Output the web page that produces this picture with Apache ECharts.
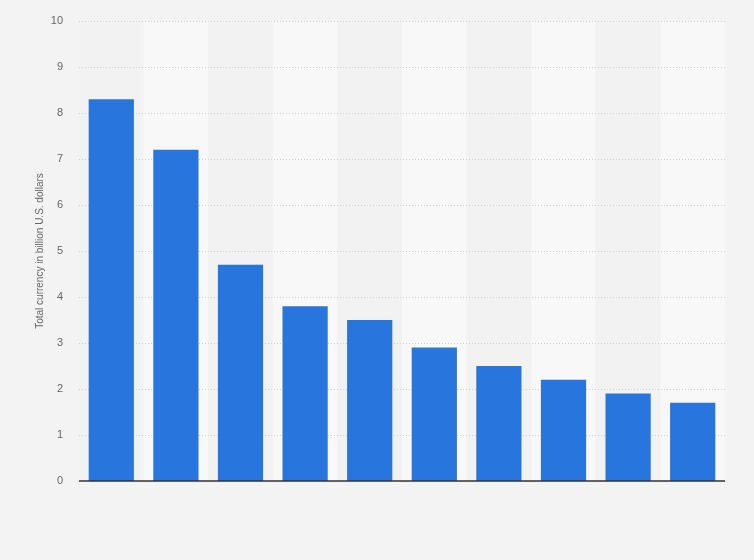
<!DOCTYPE html>
<html>
<head>
<meta charset="utf-8">
<script src="https://cdn.jsdelivr.net/npm/echarts@6/dist/echarts.min.js"></script>
<style>
  html, body { margin: 0; padding: 0; background: #f3f3f3; }
  #app { width: 754px; height: 560px; }
</style>
</head>
<body>
<div id="app"></div>
<script>
// no category labels are shown in the picture
const categories = ["1", "2", "3", "4", "5", "6", "7", "8", "9", "10"];
const values = [8.3, 7.2, 4.7, 3.8, 3.5, 2.9, 2.5, 2.2, 1.9, 1.7];
const yTicks = { min: 0, max: 10, interval: 1 };

const dom = document.getElementById("app");
const myChart = echarts.init(dom);

myChart.setOption({
  backgroundColor: "#f3f3f3",
  animation: false,
  grid: {
    left: 79,
    right: 29,
    top: 21,
    bottom: 79
  },
  xAxis: {
    type: "category",
    data: categories,
    z: 0,
    axisTick: { show: false },
    axisLabel: { show: false },
    axisLine: { show: false },
    splitArea: {
      show: true,
      areaStyle: { color: ["#f2f2f2", "#f8f8f8"] }
    }
  },
  yAxis: {
    type: "value",
    min: yTicks.min,
    max: yTicks.max,
    interval: yTicks.interval,
    z: 1,
    name: "Total currency in billion U.S. dollars",
    nameLocation: "middle",
    nameGap: 34,
    nameMoveOverlap: false,
    nameTextStyle: { color: "#666", fontSize: 10, fontFamily: "Arial, Liberation Sans" },
    axisLine: { show: false },
    axisTick: { show: false },
    axisLabel: { color: "#666", fontSize: 11, margin: 16, fontFamily: "Arial, Liberation Sans" },
    splitLine: {
      show: true,
      lineStyle: { color: "#cfcfcf", type: [1, 2] }
    }
  },
  series: [
    {
      type: "bar",
      data: values,
      barWidth: "70%",
      z: 2,
      itemStyle: { color: "#2876dd" },
      markLine: {
        silent: true,
        symbol: "none",
        label: { show: false },
        lineStyle: { color: "#333", width: 1.5, type: "solid" },
        data: [{ yAxis: 0 }]
      }
    }
  ]
});
</script>
</body>
</html>
